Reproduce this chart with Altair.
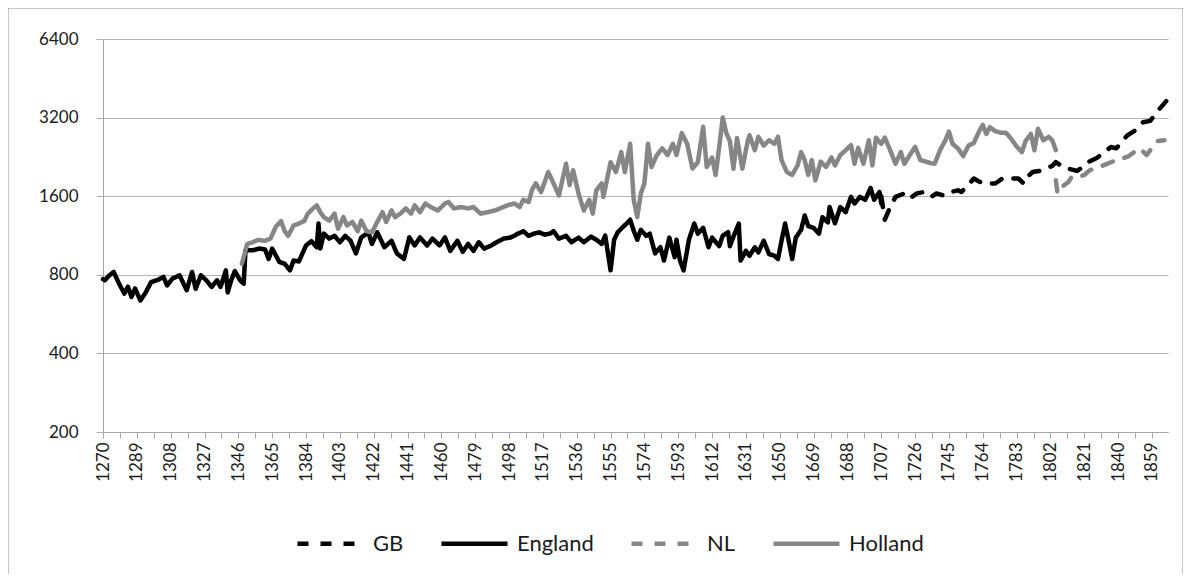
import altair as alt
import pandas as pd

# ---------------- data ----------------
eng_years = [1270, 1271, 1273, 1276, 1279, 1282, 1284, 1286, 1288, 1291, 1294, 1297, 1301, 1304, 1306,
             1309, 1313, 1317, 1320, 1322, 1325, 1328, 1331, 1334, 1336, 1339, 1340, 1342, 1344, 1347,
             1349, 1350, 1354, 1358, 1361, 1363, 1365, 1369, 1372, 1375, 1377, 1380, 1384, 1387, 1390,
             1391, 1392, 1394, 1397, 1400, 1403, 1406, 1409, 1412, 1415, 1419, 1421, 1424, 1428, 1432,
             1435, 1439, 1442, 1445, 1448, 1452, 1455, 1459, 1462, 1465, 1469, 1472, 1475, 1478, 1481,
             1484, 1488, 1491, 1495, 1499, 1503, 1506, 1509, 1512, 1515, 1518, 1521, 1523, 1526, 1530,
             1533, 1537, 1540, 1544, 1547, 1550, 1552, 1555, 1557, 1559, 1562, 1564, 1566, 1568, 1570,
             1572, 1575, 1577, 1580, 1583, 1585, 1588, 1591, 1592, 1594, 1596, 1599, 1602, 1604, 1607,
             1610, 1612, 1616, 1618, 1621, 1622, 1624, 1627, 1628, 1631, 1633, 1636, 1638, 1641, 1644,
             1647, 1649, 1651, 1653, 1655, 1657, 1659, 1662, 1664, 1666, 1669, 1672, 1674, 1677, 1678,
             1681, 1684, 1687, 1690, 1692, 1695, 1698, 1701, 1703, 1706, 1707]
eng_values = [770, 762, 790, 820, 740, 678, 720, 658, 709, 638, 685, 750, 766, 785, 728,
              774, 796, 698, 820, 707, 796, 762, 719, 762, 719, 832, 685, 762, 827, 762,
              740, 993, 993, 1008, 1000, 920, 1008, 896, 882, 832, 907, 900, 1036, 1076, 1020,
              1257, 1008, 1150, 1101, 1128, 1066, 1128, 1080, 966, 1112, 1163, 1050, 1163, 1020, 1080,
              966, 920, 1112, 1036, 1112, 1036, 1101, 1036, 1112, 988, 1080, 980, 1050, 988, 1066,
              1008, 1036, 1066, 1101, 1112, 1150, 1175, 1128, 1150, 1163, 1140, 1150, 1175, 1100, 1128,
              1066, 1110, 1066, 1120, 1090, 1050, 1130, 832, 1090, 1163, 1221, 1257, 1300, 1180, 1090,
              1190, 1128, 1150, 966, 1020, 907, 1110, 935, 1090, 907, 832, 1090, 1257, 1150, 1210,
              1020, 1110, 1030, 1130, 1165, 1030, 1120, 1257, 907, 988, 946, 1020, 975, 1080, 960,
              946, 920, 1080, 1257, 1080, 920, 1110, 1190, 1350, 1230, 1210, 1150, 1330, 1270, 1454,
              1260, 1454, 1390, 1590, 1500, 1590, 1550, 1720, 1550, 1660, 1500]

hol_years = [1348, 1351, 1354, 1357, 1361, 1364, 1367, 1370, 1372, 1374, 1377, 1380, 1383, 1385, 1388,
             1390, 1392, 1394, 1397, 1400, 1402, 1405, 1407, 1410, 1413, 1415, 1418, 1421, 1424, 1427,
             1429, 1432, 1434, 1437, 1440, 1443, 1445, 1448, 1451, 1454, 1458, 1462, 1464, 1467, 1471,
             1475, 1478, 1482, 1486, 1490, 1493, 1497, 1501, 1504, 1506, 1509, 1511, 1513, 1516, 1520,
             1523, 1526, 1530, 1532, 1534, 1537, 1540, 1543, 1545, 1547, 1550, 1551, 1555, 1558, 1561,
             1563, 1566, 1568, 1570, 1572, 1574, 1576, 1578, 1581, 1584, 1587, 1590, 1592, 1595, 1598,
             1601, 1604, 1607, 1609, 1612, 1614, 1616, 1618, 1620, 1622, 1624, 1626, 1629, 1632, 1633,
             1636, 1638, 1641, 1644, 1647, 1649, 1651, 1654, 1657, 1660, 1662, 1664, 1666, 1668, 1670,
             1673, 1676, 1679, 1681, 1684, 1687, 1690, 1692, 1694, 1697, 1700, 1702, 1704, 1707, 1709,
             1712, 1715, 1718, 1720, 1723, 1726, 1729, 1732, 1735, 1737, 1740, 1743, 1745, 1747, 1750,
             1753, 1756, 1759, 1762, 1764, 1766, 1768, 1771, 1774, 1777, 1780, 1783, 1786, 1788, 1791,
             1793, 1795, 1798, 1801, 1803, 1805]
hol_values = [882, 1050, 1066, 1088, 1080, 1100, 1221, 1285, 1175, 1128, 1236, 1257, 1285, 1372, 1437,
              1476, 1390, 1330, 1290, 1372, 1200, 1330, 1236, 1275, 1175, 1290, 1175, 1163, 1275, 1390,
              1275, 1410, 1330, 1372, 1437, 1372, 1476, 1390, 1500, 1454, 1410, 1500, 1520, 1437, 1454,
              1437, 1454, 1372, 1390, 1410, 1437, 1476, 1500, 1454, 1550, 1520, 1700, 1790, 1660, 1980,
              1790, 1610, 2130, 1765, 2010, 1640, 1410, 1550, 1372, 1685, 1790, 1590, 2160, 1980, 2360,
              1980, 2540, 1550, 1330, 1640, 1790, 2540, 2070, 2300, 2440, 2300, 2540, 2300, 2790, 2540,
              2040, 2160, 2950, 2070, 2250, 1930, 2470, 3200, 2790, 2600, 2040, 2670, 2040, 2600, 2740,
              2400, 2700, 2500, 2620, 2540, 2700, 2200, 1980, 1930, 2100, 2360, 2200, 1930, 2200, 1840,
              2170, 2070, 2250, 2100, 2300, 2400, 2510, 2130, 2450, 2130, 2620, 2100, 2680, 2540, 2680,
              2400, 2130, 2360, 2130, 2300, 2470, 2200, 2170, 2140, 2130, 2400, 2620, 2830, 2540, 2440,
              2280, 2500, 2560, 2840, 3000, 2770, 2940, 2840, 2800, 2800, 2650, 2480, 2360, 2600, 2770,
              2400, 2900, 2620, 2700, 2620, 2400]

gb_years = [1707, 1709, 1712, 1715, 1720, 1723, 1727, 1731, 1735, 1738, 1742, 1746, 1750, 1752, 1759,
            1762, 1765, 1771, 1775, 1784, 1787, 1788, 1792, 1796, 1803, 1805, 1809, 1812, 1817, 1820,
            1823, 1828, 1836, 1839, 1845, 1849, 1854, 1858, 1863, 1867]
gb_values = [1600, 1300, 1454, 1590, 1640, 1570, 1640, 1660, 1590, 1640, 1610, 1660, 1685, 1660, 1870,
             1820, 1790, 1790, 1870, 1870, 1790, 1870, 1980, 2000, 2090, 2160, 2070, 2040, 2000, 2070,
             2160, 2240, 2470, 2440, 2730, 2840, 3070, 3110, 3440, 3700]

nl_years = [1805, 1806, 1809, 1812, 1814, 1818, 1821, 1824, 1829, 1831, 1839, 1843, 1846, 1852, 1856,
            1862, 1866]
nl_values = [1840, 1640, 1750, 1810, 1900, 1900, 1930, 2010, 2070, 2090, 2200, 2240, 2280, 2440, 2300,
             2600, 2620]

series_names = ["GB", "England", "NL", "Holland"]
series_colors = ["#000000", "#000000", "#868686", "#868686"]
series_dash = [[11, 12], [1, 0], [11, 12], [1, 0]]
y_ticks = [200, 400, 800, 1600, 3200, 6400]
x_first, x_last, x_label_step = 1270, 1868, 19

# ---------------- build table ----------------
frames = []
for name, yrs, vals in [("GB", gb_years, gb_values), ("England", eng_years, eng_values),
                        ("NL", nl_years, nl_values), ("Holland", hol_years, hol_values)]:
    frames.append(pd.DataFrame({"year": yrs, "value": vals, "series": name}))
df = pd.concat(frames, ignore_index=True)

x_tick_values = []
v = float(x_first)
while v <= x_last:
    x_tick_values.append(v)
    v += x_label_step / 2

FONT = "Lato"
W, H = 1065, 393

legend_kw = dict(orient="none", legendX=192, legendY=469, direction="horizontal", title=None,
                 symbolType="stroke", symbolStrokeWidth=4.5, symbolSize=4356, labelFont=FONT,
                 labelFontSize=22, labelColor="#1a1a1a", labelOffset=7, columnPadding=28)

lines = alt.Chart(df).mark_line(strokeWidth=4.5, strokeCap="round", strokeJoin="round").encode(
    x=alt.X("year:Q",
            scale=alt.Scale(domain=[x_first, x_last], nice=False, zero=False),
            axis=alt.Axis(values=x_tick_values, title=None, grid=False,
                          labelExpr=f"(datum.value - {x_first}) % {x_label_step} == 0 ? format(datum.value, 'd') : ''",
                          labelAngle=-90, labelAlign="right", labelBaseline="middle",
                          labelOverlap=False, labelPadding=4, tickSize=6,
                          tickColor="#a6a6a6", domainColor="#a6a6a6",
                          labelFont=FONT, labelFontSize=17, labelColor="#1a1a1a")),
    y=alt.Y("value:Q",
            scale=alt.Scale(type="log", base=2, domain=[200, 6400], nice=False),
            axis=alt.Axis(values=y_ticks, format="d", title=None, grid=True,
                          gridColor="#b0b0b0", gridWidth=1, tickSize=7, tickColor="#b0b0b0",
                          domainColor="#a6a6a6", labelPadding=18, labelFont=FONT,
                          labelFontSize=17, labelColor="#1a1a1a")),
    color=alt.Color("series:N",
                    scale=alt.Scale(domain=series_names, range=series_colors),
                    legend=alt.Legend(**legend_kw)),
    strokeDash=alt.StrokeDash("series:N",
                              scale=alt.Scale(domain=series_names, range=series_dash),
                              legend=alt.Legend(**legend_kw)),
    detail="series:N",
    order="year:Q",
)

frame = alt.Chart(pd.DataFrame({"k": [0]})).mark_rect(
    fill=None, stroke="#8c8c8c", strokeWidth=1, clip=False
).encode(x=alt.value(-95), x2=alt.value(1080), y=alt.value(-31), y2=alt.value(H + 200))

chart = alt.layer(frame, lines).properties(
    width=W, height=H,
    autosize=alt.AutoSizeParams(type="none"),
    padding={"left": 95, "top": 31, "right": 15, "bottom": 142},
    background="white",
).configure_view(stroke=None)

chart.save("out.html", embed_options={"renderer": "svg", "actions": False})
